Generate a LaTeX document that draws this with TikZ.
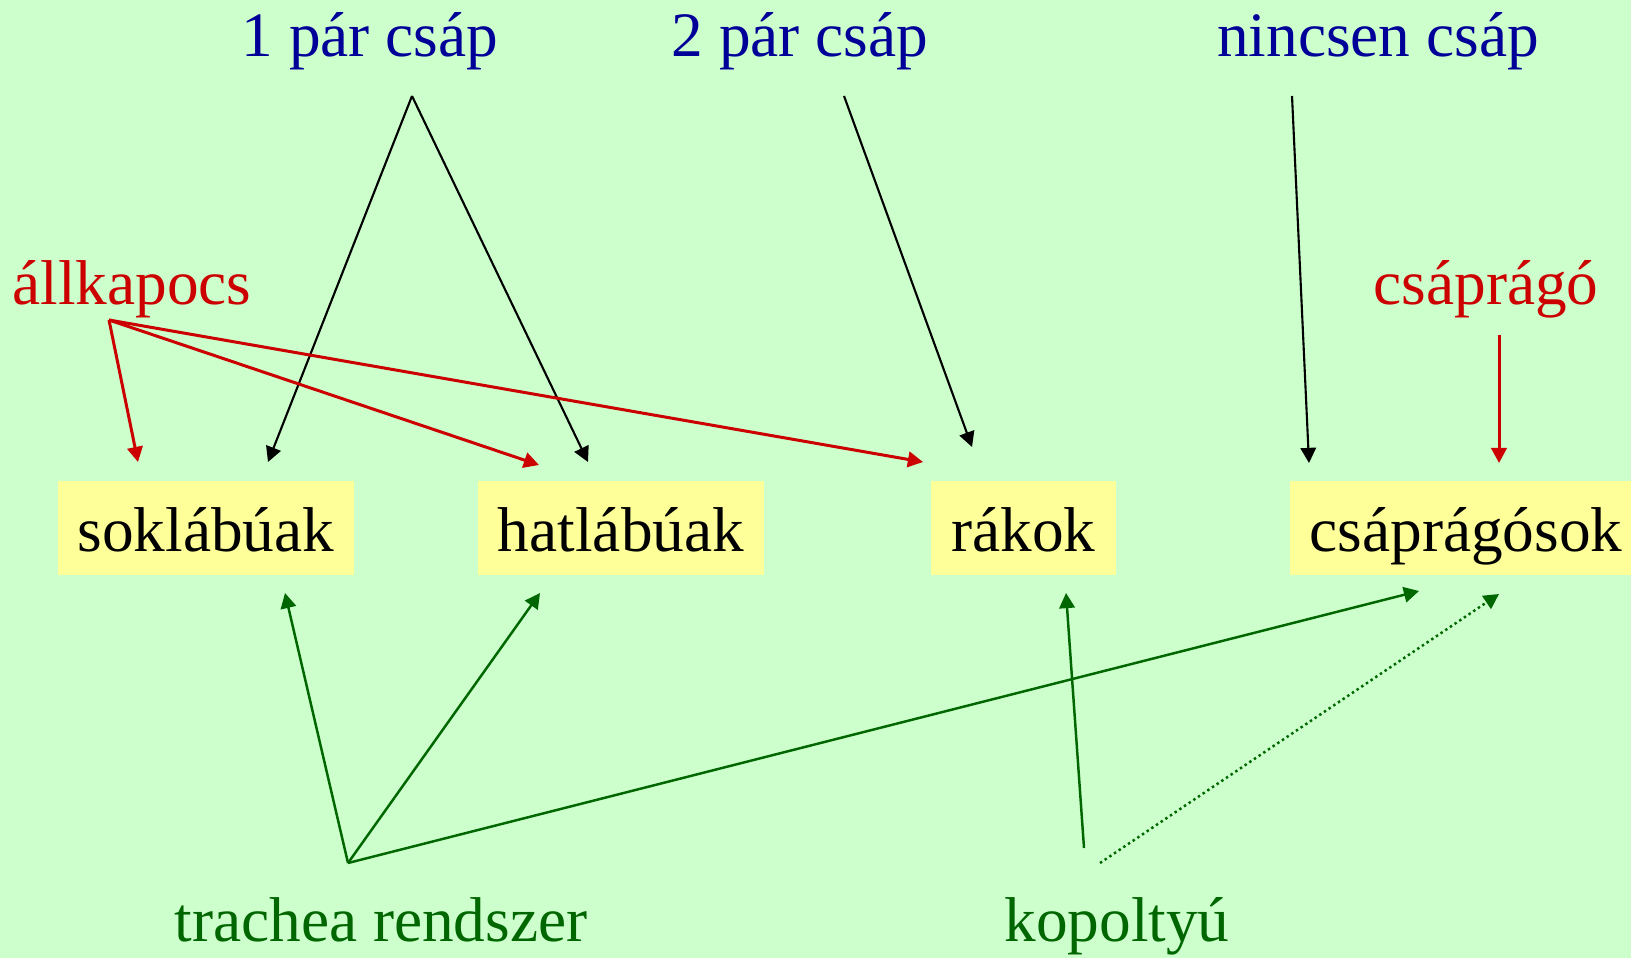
\documentclass[tikz,border=0pt]{standalone}
\usepackage{fontspec}
\setmainfont{Liberation Serif}
\usepackage{tikz}
\usetikzlibrary{arrows.meta}
\definecolor{bggreen}{RGB}{204,255,204}
\definecolor{boxyellow}{RGB}{255,255,153}
\definecolor{labelblue}{RGB}{0,0,153}
\definecolor{labelred}{RGB}{204,0,0}
\definecolor{labelgreen}{RGB}{0,102,0}

\begin{document}
\begin{tikzpicture}[x=0.01cm,y=-0.01cm,
    every node/.style={font=\fontsize{18}{21.6}\selectfont},
    group/.style={fill=boxyellow,inner xsep=0.2cm,inner ysep=0pt,minimum height=0.94cm,
      text height=0.57cm,text depth=0.11cm},
    lbl/.style={anchor=base,inner sep=0pt},
    tip/.style={-{Triangle[length=4.3pt,width=4.4pt]}},
    blk/.style={tip,line width=0.6pt},
    redarr/.style={tip,labelred,line width=0.85pt},
    grnarr/.style={tip,labelgreen,line width=0.7pt}]
    % page: 1631 x 958, y grows downward
    \useasboundingbox[fill=bggreen] (0,0) rectangle (1631,958);
    % groups
    \node[group] (sokl) at (206,528) {soklábúak};
    \node[group] (hatl) at (621,528) {hatlábúak};
    \node[group] (rak) at (1023.5,528) {rákok};
    \node[group] (cspr) at (1466,528) {csáprágósok};
    % features
    \node[lbl,labelblue] (egypar) at (370,57) {1 pár csáp};
    \node[lbl,labelblue] (ketpar) at (800,57) {2 pár csáp};
    \node[lbl,labelblue] (nincs) at (1378,57) {nincsen csáp};
    \node[lbl,labelred] (allk) at (132,305) {állkapocs};
    \node[lbl,labelred] (csprago) at (1486,305) {csáprágó};
    \node[lbl,labelgreen] (trach) at (381,941) {trachea rendszer};
    \node[lbl,labelgreen] (kop) at (1117,941) {kopoltyú};
    % line ends
    \coordinate (egypar-o) at (412,96);
    \coordinate (ketpar-o) at (844,96);
    \coordinate (nincs-o) at (1292,96);
    \coordinate (allk-o) at (109,320);
    \coordinate (csprago-o) at (1499,335);
    \coordinate (trach-o) at (348,863);
    \coordinate (kop-o) at (1084,848);
    \coordinate (kop-d) at (1100,863);
    % antennae
    \draw[blk] (egypar-o) -- (268,462);
    \draw[blk] (egypar-o) -- (588,462);
    \draw[blk] (ketpar-o) -- (972,447);
    \draw[blk] (nincs-o) -- (1309,463);
    % mouthparts
    \draw[redarr] (allk-o) -- (138,462);
    \draw[redarr] (allk-o) -- (539,465);
    \draw[redarr] (allk-o) -- (923,462);
    \draw[redarr] (csprago-o) -- (1499,463);
    % breathing
    \draw[grnarr] (trach-o) -- (285,593);
    \draw[grnarr] (trach-o) -- (540,593);
    \draw[grnarr] (trach-o) -- (1419,591);
    \draw[grnarr] (kop-o) -- (1066,593);
    \draw[grnarr,dash pattern=on 0.7pt off 0.9pt] (kop-d) -- (1499,594);
\end{tikzpicture}
\end{document}
